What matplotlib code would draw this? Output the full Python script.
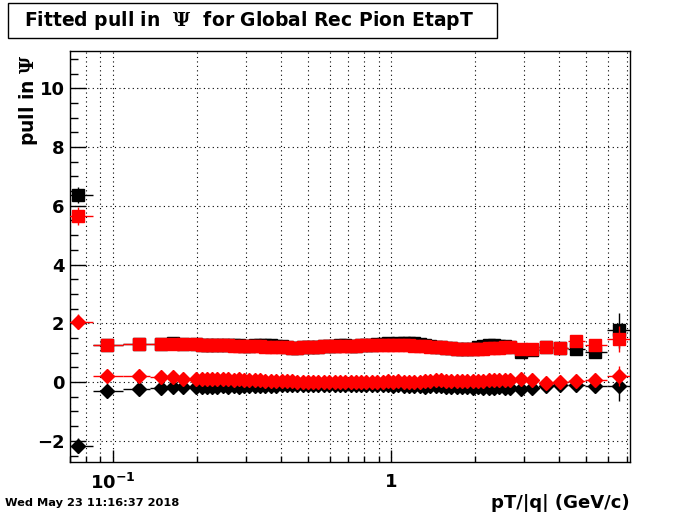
import matplotlib
matplotlib.use('Agg')
import matplotlib.pyplot as plt
from matplotlib.patches import Rectangle
from matplotlib.ticker import FixedLocator, FixedFormatter, MultipleLocator, NullFormatter
import numpy as np

# bin centres in pT/|q| (GeV/c)
pt = [0.0748, 0.0951, 0.124, 0.149, 0.164, 0.179,
      0.199, 0.208, 0.217, 0.227, 0.237, 0.248, 0.259, 0.271, 0.283, 0.296,
      0.309, 0.323, 0.337, 0.352, 0.368, 0.385, 0.403, 0.421, 0.440, 0.459,
      0.480, 0.501, 0.524, 0.547, 0.572, 0.598, 0.625, 0.653, 0.682, 0.713,
      0.745, 0.778, 0.813, 0.849, 0.887, 0.929, 0.970, 1.014, 1.059, 1.107,
      1.156, 1.208, 1.262, 1.318, 1.377, 1.442, 1.507, 1.574, 1.644, 1.718,
      1.795, 1.875, 1.959, 2.046, 2.138, 2.239, 2.339, 2.443, 2.553, 2.667,
      2.91, 3.19, 3.58, 4.02, 4.59, 5.37, 6.56]

# black squares
black_sq = [6.37, 1.27, 1.30, 1.29, 1.34, 1.29,
            1.28, 1.27, 1.27, 1.26, 1.26, 1.25, 1.25, 1.27, 1.27, 1.23,
            1.23, 1.25, 1.26, 1.25, 1.25, 1.24, 1.23, 1.20, 1.17, 1.17,
            1.18, 1.19, 1.20, 1.21, 1.22, 1.22, 1.24, 1.26, 1.27, 1.24,
            1.24, 1.25, 1.25, 1.27, 1.30, 1.31, 1.32, 1.31, 1.32, 1.33,
            1.34, 1.33, 1.30, 1.27, 1.24, 1.21, 1.19, 1.17, 1.15, 1.14,
            1.13, 1.13, 1.14, 1.18, 1.22, 1.25, 1.26, 1.24, 1.22, 1.19,
            1.04, 1.10, 1.19, 1.17, 1.13, 1.01, 1.76]
# red squares
red_sq = [5.66, 1.27, 1.30, 1.29, 1.30, 1.29,
          1.28, 1.27, 1.27, 1.26, 1.26, 1.25, 1.25, 1.24, 1.24, 1.23,
          1.23, 1.22, 1.22, 1.21, 1.21, 1.20, 1.19, 1.18, 1.17, 1.17,
          1.18, 1.19, 1.20, 1.21, 1.22, 1.22, 1.23, 1.23, 1.24, 1.24,
          1.24, 1.25, 1.25, 1.25, 1.26, 1.26, 1.27, 1.27, 1.27, 1.26,
          1.25, 1.24, 1.23, 1.22, 1.21, 1.20, 1.18, 1.17, 1.15, 1.14,
          1.13, 1.13, 1.12, 1.13, 1.14, 1.15, 1.16, 1.17, 1.18, 1.19,
          1.12, 1.14, 1.19, 1.17, 1.40, 1.26, 1.47]
# black diamonds
black_dm = [-2.16, -0.29, -0.24, -0.20, -0.17, -0.17,
            -0.17, -0.16, -0.18, -0.16, -0.17, -0.15, -0.16, -0.15, -0.16, -0.14,
            -0.15, -0.14, -0.13, -0.13, -0.12, -0.12, -0.11, -0.11, -0.10, -0.10,
            -0.10, -0.10, -0.09, -0.10, -0.09, -0.10, -0.10, -0.09, -0.10, -0.10,
            -0.11, -0.10, -0.10, -0.09, -0.10, -0.11, -0.10, -0.12, -0.11, -0.12,
            -0.14, -0.15, -0.15, -0.16, -0.15, -0.15, -0.14, -0.16, -0.17, -0.18,
            -0.17, -0.18, -0.19, -0.18, -0.19, -0.20, -0.19, -0.18, -0.20, -0.20,
            -0.23, -0.21, -0.12, -0.10, -0.10, -0.13, -0.13]
# red diamonds
red_dm = [2.06, 0.21, 0.22, 0.16, 0.16, 0.12,
          0.12, 0.10, 0.12, 0.10, 0.11, 0.09, 0.10, 0.08, 0.09, 0.07,
          0.08, 0.06, 0.06, 0.05, 0.04, 0.03, 0.03, 0.02, 0.02, 0.01,
          0.01, 0.00, 0.01, 0.00, 0.00, 0.01, 0.00, 0.00, 0.01, 0.00,
          -0.01, 0.00, 0.00, 0.01, 0.00, 0.00, 0.02, 0.01, 0.03, 0.01,
          0.00, -0.01, 0.00, 0.02, 0.04, 0.06, 0.07, 0.05, 0.04, 0.03,
          0.03, 0.04, 0.04, 0.05, 0.05, 0.06, 0.06, 0.07, 0.06, 0.08,
          0.10, 0.08, -0.03, 0.00, 0.04, 0.08, 0.21]

# vertical errors (small in the dense part, hidden by markers)
black_sq_err = [0.28] + [0.05] * 5 + [0.03] * 60 + [0.06, 0.07, 0.08, 0.10, 0.15, 0.20, 0.60]
red_sq_err = [0.30] + [0.05] * 5 + [0.03] * 60 + [0.06, 0.07, 0.08, 0.10, 0.15, 0.20, 0.45]
black_dm_err = [0.27] + [0.05] * 5 + [0.03] * 60 + [0.06, 0.07, 0.08, 0.10, 0.15, 0.20, 0.50]
red_dm_err = [0.27] + [0.05] * 5 + [0.03] * 60 + [0.06, 0.07, 0.08, 0.10, 0.20, 0.20, 0.35]

date_text = 'Wed May 23 11:16:37 2018'

plt.rcParams['font.family'] = 'DejaVu Sans'
plt.rcParams['font.weight'] = 'bold'
plt.rcParams['mathtext.fontset'] = 'custom'
plt.rcParams['mathtext.rm'] = 'DejaVu Serif'
plt.rcParams['mathtext.it'] = 'DejaVu Serif:italic'
plt.rcParams['mathtext.bf'] = 'DejaVu Sans:bold'

fig = plt.figure(figsize=(7.0, 5.14), dpi=100)
ax = fig.add_axes([0.1, 0.1012, 0.8, 0.7996])

# bin edges -> horizontal error bars
x = np.array(pt)
lx = np.log10(x)
mids = 10 ** ((lx[:-1] + lx[1:]) / 2)
lo = np.concatenate([[x[0] ** 2 / mids[0]], mids])
hi = np.concatenate([mids, [x[-1] ** 2 / mids[-1]]])
xerr = [x - lo, hi - x]

ax.errorbar(x, black_sq, xerr=xerr, yerr=black_sq_err, fmt='s', color='black', ms=8,
            elinewidth=1, capsize=0, zorder=3)
ax.errorbar(x, red_sq, xerr=xerr, yerr=red_sq_err, fmt='s', color='red', ms=8,
            elinewidth=1, capsize=0, zorder=4)
ax.errorbar(x, black_dm, xerr=xerr, yerr=black_dm_err, fmt='D', color='black', ms=7.3,
            elinewidth=1, capsize=0, zorder=5)
ax.errorbar(x, red_dm, xerr=xerr, yerr=red_dm_err, fmt='D', color='red', ms=7.3,
            elinewidth=1, capsize=0, zorder=6)

ax.set_xscale('log')
ax.set_xlim(0.07, 7.2)
ax.set_ylim(-2.72, 11.27)

minors = [0.07, 0.08, 0.09, 0.2, 0.3, 0.4, 0.5, 0.6, 0.7, 0.8, 0.9, 2, 3, 4, 5, 6, 7]
ax.xaxis.set_major_locator(FixedLocator([0.1, 1]))
ax.xaxis.set_major_formatter(FixedFormatter([r'$\mathbf{10^{-1}}$', '1']))
ax.xaxis.set_minor_locator(FixedLocator(minors))
ax.xaxis.set_minor_formatter(NullFormatter())
ax.yaxis.set_major_locator(MultipleLocator(2))
ax.yaxis.set_minor_locator(MultipleLocator(0.5))
ax.set_yticks([-2, 0, 2, 4, 6, 8, 10])
ax.set_yticklabels(['\u22122', '0', '2', '4', '6', '8', '10'])

ax.tick_params(axis='x', which='major', direction='in', length=8.6, width=1, labelsize=13, pad=8)
ax.tick_params(axis='x', which='minor', direction='in', length=4.3, width=1)
ax.tick_params(axis='y', which='major', direction='in', length=11.5, width=1, labelsize=13, pad=4)
ax.tick_params(axis='y', which='minor', direction='in', length=5.8, width=1)

ax.grid(True, which='major', axis='both', linestyle=(0, (1, 3)), color='black', linewidth=0.8)
ax.grid(True, which='minor', axis='x', linestyle=(0, (1, 3)), color='black', linewidth=0.8)
ax.set_axisbelow(True)
for s in ax.spines.values():
    s.set_linewidth(1.0)

# title box like ROOT
fig.patches.append(Rectangle((8 / 700, 1 - 38 / 514), 489 / 700, 35 / 514, transform=fig.transFigure,
                             facecolor='white', edgecolor='black', linewidth=1))
fig.text(249 / 700, 1 - 20.5 / 514, r'Fitted pull in  $\mathrm{\Psi}$  for Global Rec Pion EtapT',
         ha='center', va='center', fontsize=13.5, fontweight='bold')

fig.text(28 / 700, 1 - 55 / 514, r'pull in $\mathrm{\Psi}$', rotation=90, ha='center', va='top',
         fontsize=13.5, fontweight='bold')
fig.text(630 / 700, 11 / 514, 'pT/|q| (GeV/c)', ha='right', va='center', fontsize=13, fontweight='bold')
fig.text(5 / 700, 11 / 514, date_text, ha='left', va='center', fontsize=8.2, fontweight='bold')

fig.savefig('out.png', dpi=100)
